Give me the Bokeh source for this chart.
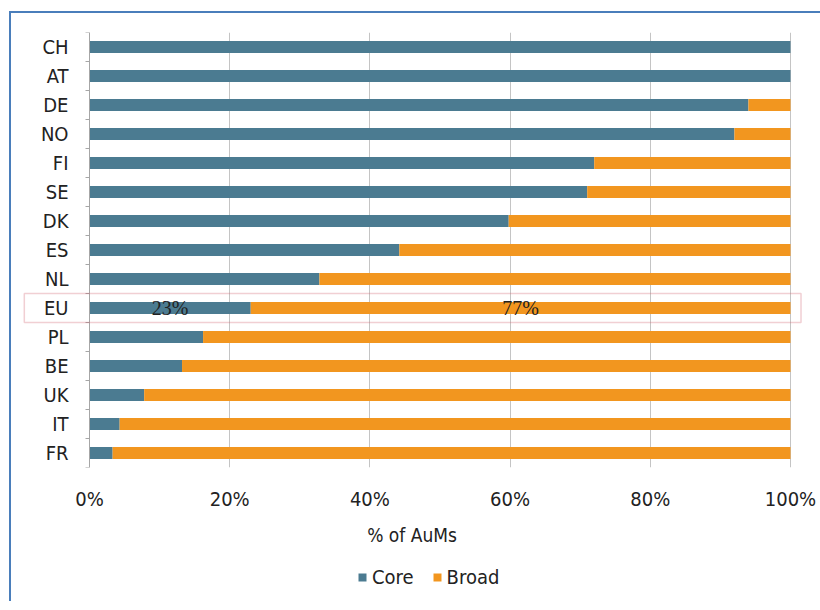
from bokeh.plotting import figure
from bokeh.models import (ColumnDataSource, Range1d, FixedTicker, Legend, LegendItem,
                          BoxAnnotation, LabelSet)
from bokeh.embed import file_html
from bokeh.resources import INLINE

# ---- data (top to bottom as shown) ----
countries = ["CH", "AT", "DE", "NO", "FI", "SE", "DK", "ES", "NL", "EU", "PL", "BE", "UK", "IT", "FR"]
core = [100.0, 100.0, 94.0, 92.0, 72.0, 71.0, 59.8, 44.2, 32.8, 23.0, 16.2, 13.2, 7.8, 4.3, 3.3]
broad = [0.0, 0.0, 6.0, 8.0, 28.0, 29.0, 40.2, 55.8, 67.2, 77.0, 83.8, 86.8, 92.2, 95.7, 96.7]
x_ticks = [0, 20, 40, 60, 80, 100]
highlight = "EU"
highlight_labels = ["23%", "77%"]

CORE_C = "#4b7b91"
BROAD_C = "#f2961f"
TEXT_C = "#222222"
FONT = "DejaVu Sans Condensed"

n = len(countries)
ypos = [n - i - 0.5 for i in range(n)]
broad_end = [c + b for c, b in zip(core, broad)]

src = ColumnDataSource(dict(y=ypos, core=core, broad=broad_end, zero=[0] * n))

p = figure(frame_width=783, frame_height=435, output_backend="svg", toolbar_location=None,
           x_range=Range1d(-9.843, 101.855), y_range=Range1d(0, n),
           min_border_left=9, min_border_right=17, min_border_top=19, min_border_bottom=134)
p.outline_line_color = None
p.background_fill_color = "white"
p.border_fill_color = "white"
p.styles = {"border-top": "2px solid #4a7ebb", "border-left": "2px solid #4a7ebb",
            "margin-left": "9px", "margin-top": "11px"}

h = 0.42
p.hbar(y="y", left="zero", right="core", height=h, source=src,
       fill_color=CORE_C, line_color=None)
p.hbar(y="y", left="core", right="broad", height=h, source=src,
       fill_color=BROAD_C, line_color=None)

# y axis, drawn at x = 0
p.yaxis.fixed_location = 0
p.yaxis.ticker = FixedTicker(ticks=ypos, minor_ticks=list(range(n + 1)))
p.yaxis.major_label_overrides = {y: c for y, c in zip(ypos, countries)}
p.yaxis.major_tick_out = 0
p.yaxis.major_tick_in = 0
p.yaxis.minor_tick_out = 4
p.yaxis.minor_tick_in = 0
p.yaxis.minor_tick_line_color = "#a6a6a6"
p.yaxis.axis_line_color = "#a6a6a6"
p.yaxis.major_label_text_font = FONT
p.yaxis.major_label_text_font_size = "20px"
p.yaxis.major_label_text_color = TEXT_C
p.yaxis.major_label_standoff = 17

# x axis
p.xaxis.ticker = FixedTicker(ticks=x_ticks)
p.xaxis.major_label_overrides = {t: f"{t}%" for t in x_ticks}
p.xaxis.axis_line_color = None
p.xaxis.major_tick_line_color = None
p.xaxis.major_tick_out = 0
p.xaxis.major_tick_in = 0
p.xaxis.minor_tick_line_color = None
p.xaxis.major_label_text_font = FONT
p.xaxis.major_label_text_font_size = "20px"
p.xaxis.major_label_text_color = TEXT_C
p.xaxis.major_label_standoff = 19
p.xaxis.axis_label = "% of AuMs"
p.xaxis.axis_label_text_font = FONT
p.xaxis.axis_label_text_font_style = "normal"
p.xaxis.axis_label_text_font_size = "19px"
p.xaxis.axis_label_text_color = TEXT_C
p.xaxis.axis_label_standoff = 10

p.ygrid.grid_line_color = None
p.xgrid.grid_line_color = "#c4c4c4"
p.xgrid.grid_line_width = 1

# highlight box around EU row
k = countries.index(highlight)
yk = ypos[k]
box = BoxAnnotation(left=-9.3, right=101.5, bottom=yk - 0.5, top=yk + 0.5,
                    fill_color=None, line_color="#d0606e", line_width=1.5)
p.add_layout(box)

lab_src = ColumnDataSource(dict(
    x=[core[k] / 2, core[k] + broad[k] / 2], y=[yk, yk], t=highlight_labels))
p.add_layout(LabelSet(x="x", y="y", text="t", source=lab_src, text_align="center",
                      text_baseline="middle", text_font=FONT, text_font_size="20px",
                      text_color=TEXT_C))

# ---- legend strip below the chart ----
p2 = figure(frame_width=783, frame_height=34, output_backend="svg", toolbar_location=None,
            x_axis_type=None, y_axis_type=None,
            min_border_left=9, min_border_right=17, min_border_top=0, min_border_bottom=0)
p2.outline_line_color = None
p2.background_fill_alpha = 0
p2.border_fill_alpha = 0
p2.styles = {"position": "absolute", "left": "11px", "top": "560px"}
l_core = p2.hbar(y="y", left="zero", right="core", height=h, source=src,
                 fill_color=CORE_C, line_color=None, visible=False)
l_broad = p2.hbar(y="y", left="core", right="broad", height=h, source=src,
                  fill_color=BROAD_C, line_color=None, visible=False)

legend = Legend(items=[LegendItem(label="Core", renderers=[l_core]),
                       LegendItem(label="Broad", renderers=[l_broad])],
                orientation="horizontal", location=(337, 5),
                border_line_color=None, background_fill_alpha=0,
                label_text_font=FONT, label_text_font_size="20px",
                label_text_color=TEXT_C, glyph_width=10, glyph_height=10,
                spacing=18, label_standoff=5, margin=0, padding=0)
p2.add_layout(legend, "center")

open("out.html", "w").write(file_html([p, p2], INLINE))
